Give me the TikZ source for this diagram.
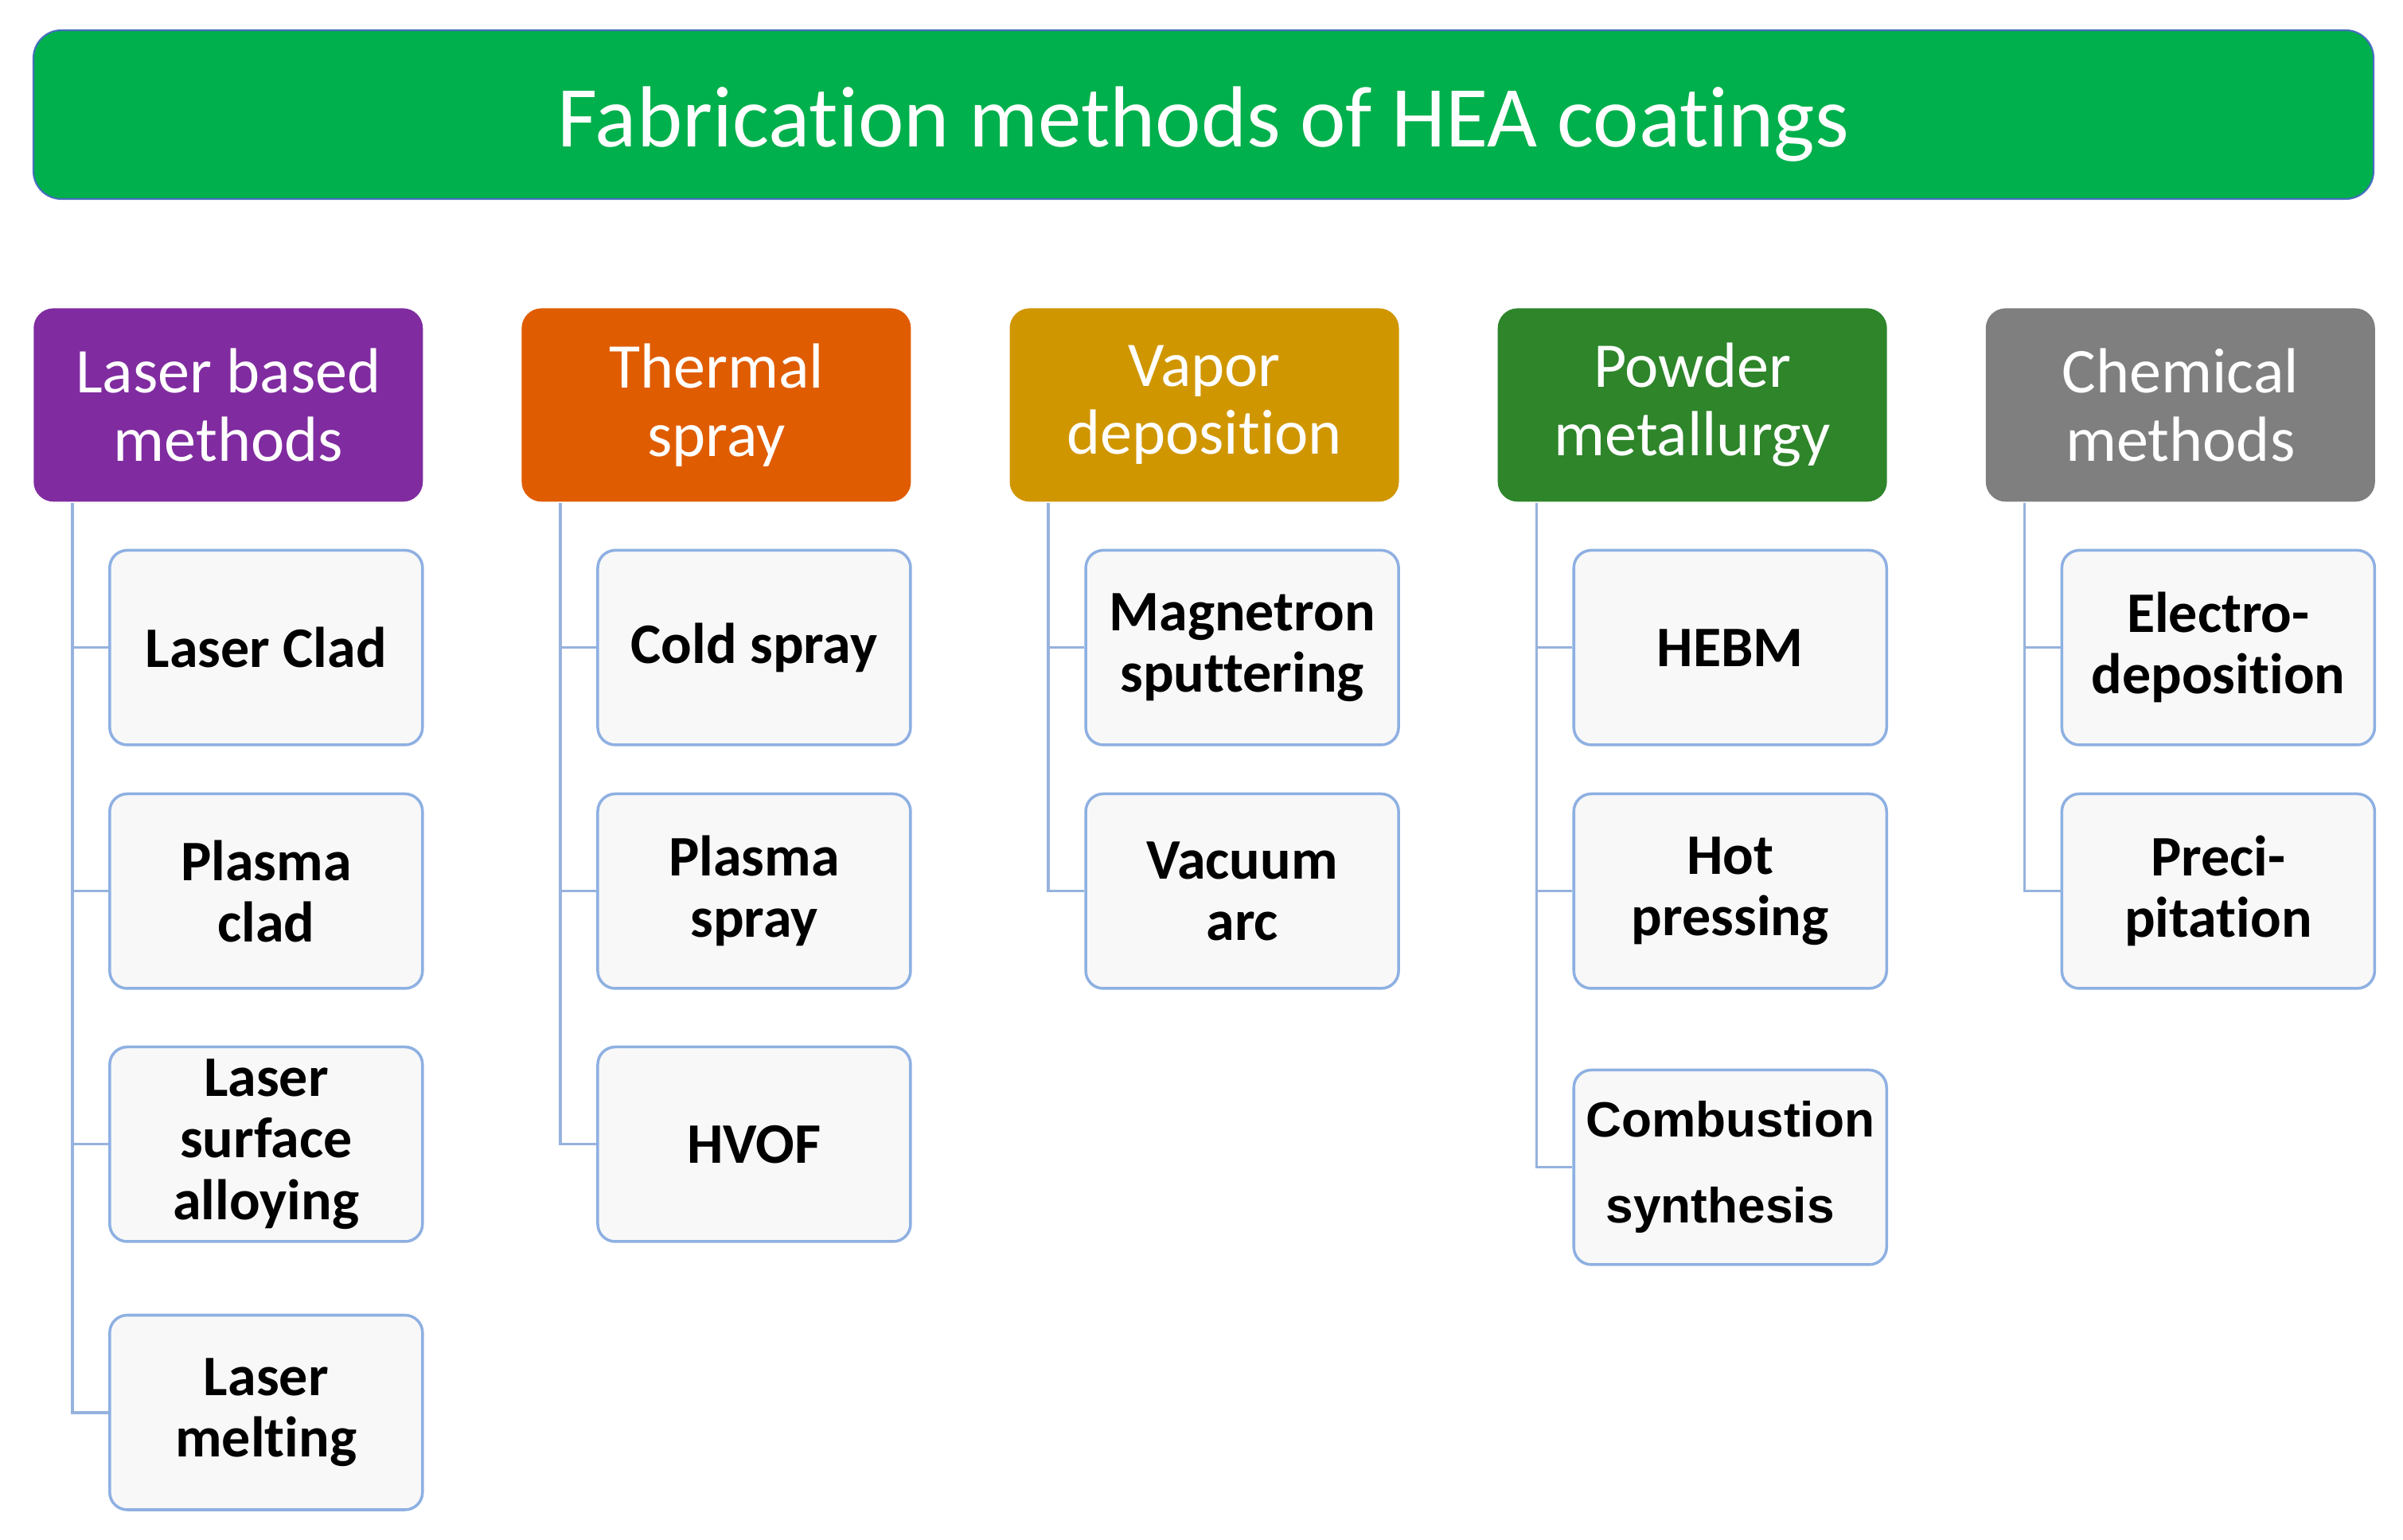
\documentclass[tikz,border=0pt]{standalone}
\usepackage{fontspec}
\setmainfont{Carlito}[Ligatures=NoCommon]
\newfontfamily\arialfont{Liberation Sans}
\usepackage{tikz}
\usetikzlibrary{positioning}
\tikzset{every picture/.style={line width=0.75pt}}

\definecolor{titlegreen}{RGB}{0,176,76}
\definecolor{titleline}{RGB}{70,110,190}
\definecolor{lasercol}{RGB}{128,44,160}
\definecolor{thermalcol}{RGB}{224,92,0}
\definecolor{vaporcol}{RGB}{208,150,0}
\definecolor{powdercol}{RGB}{46,133,42}
\definecolor{chemcol}{RGB}{127,127,127}
\definecolor{leaffill}{RGB}{248,248,248}
\definecolor{leafline}{RGB}{142,176,226}
\definecolor{branchcol}{RGB}{150,178,222}

\begin{document}
\begin{tikzpicture}[node distance=1.215cm,
        title/.style={rectangle, rounded corners=0.35cm, fill=titlegreen, draw=titleline, line width=0.6pt, minimum width=29.4cm, minimum height=2.12cm, text height=0.82cm, text depth=0pt, text=white, font=\fontsize{31}{36}\selectfont},
        catbox/.style={rectangle, rounded corners=0.25cm, minimum width=4.89cm, minimum height=2.43cm, inner sep=0pt, text=white, align=center, font=\fontsize{22.8}{24.4}\selectfont},
        leafbox/.style={rectangle, rounded corners=0.22cm, fill=leaffill, draw=leafline, line width=1pt, minimum width=3.93cm, minimum height=2.445cm, inner sep=0pt, align=center, font=\fontsize{20.5}{22}\selectfont\bfseries},
        branch/.style={draw=branchcol, line width=1pt}]
        \useasboundingbox[fill=white] (0,0) rectangle (30.19,-19.35);
        \node[title] (top) at (15.12,-1.44) {Fabrication methods of HEA coatings};

        % method groups
        \node[catbox, fill=lasercol, below=1.35cm of top.south west, anchor=north west] (laser) {Laser based\\methods};
        \node[catbox, fill=thermalcol, right=of laser] (thermal) {Thermal\\spray};
        \node[catbox, fill=vaporcol, right=of thermal] (vapor) {Vapor\\deposition};
        \node[catbox, fill=powdercol, right=of vapor] (powder) {Powder\\metallurgy};
        \node[catbox, fill=chemcol, right=of powder] (chem) {Chemical\\methods};

        % laser based
        \node[leafbox, below=0.58cm of laser.south east, anchor=north east] (lclad) {Laser Clad};
        \node[leafbox, below=0.58cm of lclad] (pclad) {Plasma\\clad};
        \node[leafbox, below=0.70cm of pclad] (lsa) {Laser\\surface\\alloying};
        \node[leafbox, below=0.89cm of lsa] (lmelt) {Laser\\melting};
        % thermal spray
        \node[leafbox, below=0.58cm of thermal.south east, anchor=north east] (cold) {Cold spray};
        \node[leafbox, below=0.58cm of cold] (pspray) {Plasma\\spray};
        \node[leafbox, below=0.70cm of pspray] (hvof) {HVOF};
        % vapor deposition
        \node[leafbox, below=0.58cm of vapor.south east, anchor=north east] (magnet) {Magnetron\\sputtering};
        \node[leafbox, below=0.58cm of magnet] (varc) {Vacuum\\arc};
        % powder metallurgy
        \node[leafbox, below=0.58cm of powder.south east, anchor=north east] (hebm) {HEBM};
        \node[leafbox, below=0.58cm of hebm] (hotp) {Hot\\pressing};
        \node[leafbox, below=0.99cm of hotp, font=\arialfont\bfseries\fontsize{17.7}{30.7}\selectfont] (comb) {Combustion\\\hspace*{-0.25cm}synthesis};
        % chemical
        \node[leafbox, below=0.58cm of chem.south east, anchor=north east] (electro) {Electro-\\deposition};
        \node[leafbox, below=0.58cm of electro] (precip) {Preci-\\pitation};

        \draw[branch]
            ([xshift=0.5cm]laser.south west) |- (lclad.west)
            ([xshift=0.5cm]laser.south west) |- (pclad.west)
            ([xshift=0.5cm]laser.south west) |- (lsa.west)
            ([xshift=0.5cm]laser.south west) |- (lmelt.west)
            ([xshift=0.5cm]thermal.south west) |- (cold.west)
            ([xshift=0.5cm]thermal.south west) |- (pspray.west)
            ([xshift=0.5cm]thermal.south west) |- (hvof.west)
            ([xshift=0.5cm]vapor.south west) |- (magnet.west)
            ([xshift=0.5cm]vapor.south west) |- (varc.west)
            ([xshift=0.5cm]powder.south west) |- (hebm.west)
            ([xshift=0.5cm]powder.south west) |- (hotp.west)
            ([xshift=0.5cm]powder.south west) |- (comb.west)
            ([xshift=0.5cm]chem.south west) |- (electro.west)
            ([xshift=0.5cm]chem.south west) |- (precip.west)
            ;
    \end{tikzpicture}
\end{document}
